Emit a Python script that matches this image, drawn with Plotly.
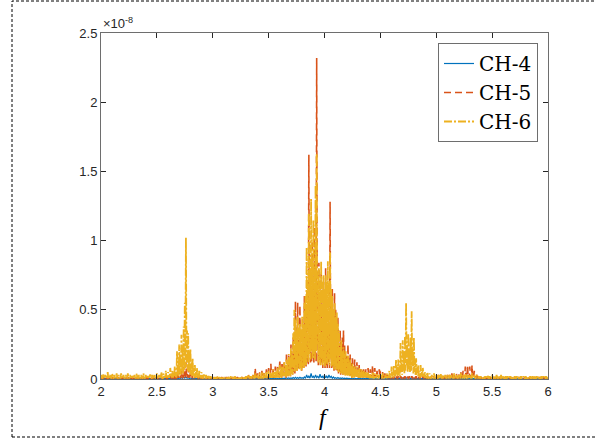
import numpy as np
import plotly.graph_objects as go

# ---------------- data (values in units of 1e-10) ----------------
# Spectra are sampled every 0.005 in f: "peak" samples at 2.00, 2.01, ...
# and "dip" samples at 2.005, 2.015, ... (one row = 0.1 in f).
F_START = 2.0
F_STEP = 0.005

ch6_peaks = [
    [3, 1, 4, 2, 3, 1, 5, 2, 3, 1],            # 2.0
    [4, 1, 3, 2, 4, 1, 3, 1, 4, 2],            # 2.1
    [3, 1, 3, 1, 4, 1, 3, 2, 3, 1],            # 2.2
    [3, 1, 4, 1, 3, 1, 3, 1, 4, 1],            # 2.3
    [3, 1, 3, 2, 4, 1, 3, 1, 3, 1],            # 2.4
    [4, 1, 3, 2, 5, 1, 4, 2, 6, 2],            # 2.5
    [5, 3, 8, 4, 6, 4, 9, 6, 20, 10],          # 2.6
    [25, 18, 32, 22, 38, 55, 102, 35, 33, 20], # 2.7
    [22, 12, 15, 8, 10, 5, 8, 4, 6, 3],        # 2.8
    [5, 1, 4, 1, 3, 1, 3, 1, 2, 1],            # 2.9
    [2, 0.5, 1.5, 0.5, 2, 0.5, 1.5, 0.5, 1, 0.5],   # 3.0
    [1.5, 0.5, 1, 0.5, 1.5, 0.5, 2, 0.5, 1.5, 0.5], # 3.1
    [2, 0.5, 1.5, 0.5, 1, 0.5, 1.5, 0.5, 2, 0.5],   # 3.2
    [2, 0.5, 3, 1, 2, 1, 3, 1, 4, 1],          # 3.3
    [3, 1, 4, 1, 5, 1, 4, 2, 5, 1],            # 3.4
    [6, 2, 5, 2, 7, 2, 6, 3, 8, 3],            # 3.5
    [10, 8, 9, 9, 12, 10, 14, 12, 18, 14],     # 3.6
    [22, 18, 33, 50, 43, 35, 45, 38, 40, 36],  # 3.7
    [45, 40, 55, 60, 95, 70, 120, 80, 130, 85],   # 3.8
    [115, 80, 140, 163, 75, 80, 70, 85, 70, 75],  # 3.9
    [65, 75, 70, 85, 70, 92, 65, 60, 50, 55],  # 4.0
    [45, 48, 40, 35, 25, 28, 20, 23, 18, 20],  # 4.1
    [15, 17, 12, 14, 9, 11, 8, 9, 7, 9],       # 4.2
    [6, 8, 5, 7, 5, 6, 4, 5, 4, 5],            # 4.3
    [2, 4, 2, 5, 1, 4, 2, 4, 1, 3],            # 4.4
    [3, 1, 4, 1, 3, 2, 4, 2, 6, 2],            # 4.5
    [9, 5, 10, 7, 14, 9, 14, 10, 26, 12],      # 4.6
    [28, 18, 31, 55, 25, 33, 22, 30, 49, 20],  # 4.7
    [30, 14, 15, 9, 10, 6, 10, 5, 8, 4],       # 4.8
    [5, 2, 5, 1, 4, 1, 3, 1, 4, 1],            # 4.9
    [3, 1, 3, 1, 4, 1, 3, 1, 3, 1],            # 5.0
    [3, 1, 3, 1, 3, 1, 4, 1, 3, 1],            # 5.1
    [3, 1, 4, 1, 3, 1, 4, 1, 3, 1],            # 5.2
    [3, 1, 4, 1, 3, 1, 3, 1, 2, 1],            # 5.3
    [2, 0.5, 2, 1, 2, 0.5, 3, 1, 2, 0.5],      # 5.4
    [3, 1, 2, 1, 3, 1, 2, 1, 3, 1],            # 5.5
    [2, 0.5, 2, 1, 2, 0.5, 2, 1, 2, 0.5],      # 5.6
    [2, 1, 2, 0.5, 2, 1, 2, 0.5, 2, 1],        # 5.7
    [2, 0.5, 2, 1, 2, 0.5, 2, 1, 2, 0.5],      # 5.8
    [2, 1, 2, 0.5, 2, 1, 2, 0.5, 2, 1],        # 5.9
    [2],                                       # 6.0
]

ch6_dips = [
    [1, 0.5, 1, 1, 0.5, 1, 0.5, 1, 1, 0.5],    # 2.0
    [1, 0.5, 1, 0.5, 1, 0.5, 1, 0.5, 1, 1],    # 2.1
    [1, 0.5, 1, 0.5, 1, 0.5, 1, 1, 1, 0.5],    # 2.2
    [1, 0.5, 1, 0.5, 1, 0.5, 1, 0.5, 1, 0.5],  # 2.3
    [1, 0.5, 1, 1, 1, 0.5, 1, 0.5, 1, 0.5],    # 2.4
    [1, 0.5, 1, 1, 1, 0.5, 1, 1, 2, 1],        # 2.5
    [1, 1, 2, 1, 1, 2, 2, 1, 3, 2],            # 2.6
    [4, 3, 5, 4, 6, 8, 10, 6, 5, 3],           # 2.7
    [3, 2, 2, 1, 1, 1, 1, 0.5, 1, 0.5],        # 2.8
    [1, 0.5, 1, 0.5, 0.5, 0.5, 0.5, 0.5, 0.5, 0.5],  # 2.9
    [0.3, 0.2, 0.3, 0.2, 0.3, 0.2, 0.3, 0.2, 0.3, 0.2],  # 3.0
    [0.3, 0.2, 0.3, 0.2, 0.3, 0.2, 0.3, 0.2, 0.3, 0.2],  # 3.1
    [0.3, 0.2, 0.3, 0.2, 0.3, 0.2, 0.3, 0.2, 0.3, 0.2],  # 3.2
    [0.5, 0.5, 1, 0.5, 0.5, 0.5, 1, 0.5, 1, 0.5],  # 3.3
    [1, 0.5, 1, 0.5, 1, 0.5, 1, 1, 1, 0.5],    # 3.4
    [1, 1, 1, 1, 2, 1, 1, 1, 2, 1],            # 3.5
    [2, 1, 2, 2, 2, 1, 3, 2, 3, 2],            # 3.6
    [4, 3, 6, 5, 8, 6, 9, 7, 8, 6],            # 3.7
    [9, 8, 10, 10, 15, 12, 18, 14, 20, 15],    # 3.8
    [18, 14, 20, 25, 12, 14, 10, 14, 10, 12],  # 3.9
    [9, 12, 10, 14, 10, 15, 9, 10, 7, 9],      # 4.0
    [6, 7, 5, 5, 4, 4, 3, 4, 2, 3],            # 4.1
    [2, 3, 2, 2, 1, 2, 1, 2, 1, 2],            # 4.2
    [1, 1, 1, 1, 1, 1, 1, 1, 1, 1],            # 4.3
    [0.5, 1, 0.5, 1, 0.5, 1, 0.5, 1, 0.5, 1],  # 4.4
    [1, 0.5, 1, 0.5, 1, 0.5, 1, 1, 1, 1],      # 4.5
    [2, 1, 2, 2, 3, 2, 3, 2, 5, 3],            # 4.6
    [6, 4, 6, 10, 5, 7, 5, 6, 9, 4],           # 4.7
    [5, 3, 3, 2, 2, 1, 2, 1, 2, 1],            # 4.8
    [1, 0.5, 1, 0.5, 1, 0.5, 1, 0.5, 1, 0.5],  # 4.9
    [1, 0.5, 1, 0.5, 1, 0.5, 1, 0.5, 1, 0.5],  # 5.0
    [1, 0.5, 1, 0.5, 1, 0.5, 1, 0.5, 1, 0.5],  # 5.1
    [1, 0.5, 1, 0.5, 1, 0.5, 1, 0.5, 1, 0.5],  # 5.2
    [1, 0.5, 1, 0.5, 1, 0.5, 1, 0.5, 1, 0.5],  # 5.3
    [0.5, 0.3, 0.5, 0.3, 0.5, 0.3, 0.5, 0.3, 0.5, 0.3],  # 5.4
    [0.5, 0.3, 0.5, 0.3, 0.5, 0.3, 0.5, 0.3, 0.5, 0.3],  # 5.5
    [0.5, 0.3, 0.5, 0.3, 0.5, 0.3, 0.5, 0.3, 0.5, 0.3],  # 5.6
    [0.5, 0.3, 0.5, 0.3, 0.5, 0.3, 0.5, 0.3, 0.5, 0.3],  # 5.7
    [0.5, 0.3, 0.5, 0.3, 0.5, 0.3, 0.5, 0.3, 0.5, 0.3],  # 5.8
    [0.5, 0.3, 0.5, 0.3, 0.5, 0.3, 0.5, 0.3, 0.5, 0.3],  # 5.9
]

ch5_peaks = [
    [1.5, 0.5, 1.5, 0.5, 1.5, 0.5, 1.5, 0.5, 1.5, 0.5],  # 2.0
    [1.5, 0.5, 1.5, 0.5, 1.5, 0.5, 1.5, 0.5, 1.5, 0.5],  # 2.1
    [1.5, 0.5, 1.5, 0.5, 1.5, 0.5, 1.5, 0.5, 1.5, 0.5],  # 2.2
    [1.5, 0.5, 1.5, 0.5, 1.5, 0.5, 1.5, 0.5, 1.5, 0.5],  # 2.3
    [1.5, 0.5, 1.5, 0.5, 1.5, 0.5, 1.5, 0.5, 1.5, 0.5],  # 2.4
    [1.5, 0.5, 1.5, 0.5, 1.5, 0.5, 1.5, 0.5, 1.5, 0.5],  # 2.5
    [2, 1, 2, 1, 3, 1, 3, 1, 5, 2],            # 2.6
    [6, 2, 7, 3, 9, 4, 12, 4, 8, 3],           # 2.7
    [5, 2, 4, 1, 3, 1, 2, 1, 2, 1],            # 2.8
    [1.5, 0.5, 1.5, 0.5, 1.5, 0.5, 1.5, 0.5, 1.5, 0.5],  # 2.9
    [1.5, 0.5, 1.5, 0.5, 1.5, 0.5, 1.5, 0.5, 1.5, 0.5],  # 3.0
    [1.5, 0.5, 1.5, 0.5, 1.5, 0.5, 1.5, 0.5, 1.5, 0.5],  # 3.1
    [1.5, 0.5, 1.5, 0.5, 1.5, 0.5, 1.5, 0.5, 1.5, 0.5],  # 3.2
    [2, 1, 3, 1, 2, 1, 3, 1, 8, 2],            # 3.3
    [4, 1, 5, 2, 6, 2, 5, 2, 7, 2],            # 3.4
    [8, 3, 11, 3, 7, 2, 9, 3, 10, 3],          # 3.5
    [14, 6, 12, 7, 13, 7, 19, 8, 17, 9],       # 3.6
    [25, 10, 30, 20, 56, 18, 55, 20, 53, 18],  # 3.7
    [30, 15, 60, 20, 50, 25, 162, 30, 45, 100],   # 3.8
    [45, 110, 50, 232, 35, 84, 30, 76, 30, 70],   # 3.9
    [30, 80, 30, 45, 30, 128, 30, 65, 25, 62], # 4.0
    [50, 30, 45, 25, 35, 20, 30, 35, 25, 15],  # 4.1
    [18, 25, 15, 18, 12, 15, 10, 14, 9, 12],   # 4.2
    [8, 10, 7, 8, 6, 8, 5, 7, 5, 8],           # 4.3
    [3, 7, 3, 10, 3, 8, 3, 6, 3, 7],           # 4.4
    [6, 2, 5, 2, 4, 1, 3, 1, 3, 1],            # 4.5
    [2, 1, 2, 1, 2, 1, 2, 1, 2, 1],            # 4.6
    [2, 1, 2, 1, 2, 1, 2, 1, 2, 1],            # 4.7
    [2, 1, 2, 1, 2, 1, 2, 1, 2, 1],            # 4.8
    [2, 1, 2, 1, 2, 1, 2, 1, 2, 1],            # 4.9
    [2, 1, 3, 1, 2, 1, 3, 1, 2, 1],            # 5.0
    [3, 1, 3, 1, 4, 1, 3, 1, 4, 1],            # 5.1
    [4, 1, 5, 2, 6, 2, 9, 3, 10, 3],           # 5.2
    [9, 3, 10, 2, 6, 2, 4, 1, 3, 1],           # 5.3
    [1.5, 0.5, 1.5, 0.5, 1.5, 0.5, 1.5, 0.5, 1.5, 0.5],  # 5.4
    [1.5, 0.5, 1.5, 0.5, 1.5, 0.5, 1.5, 0.5, 1.5, 0.5],  # 5.5
    [1.5, 0.5, 1.5, 0.5, 1.5, 0.5, 1.5, 0.5, 1.5, 0.5],  # 5.6
    [1.5, 0.5, 1.5, 0.5, 1.5, 0.5, 1.5, 0.5, 1.5, 0.5],  # 5.7
    [1.5, 0.5, 1.5, 0.5, 1.5, 0.5, 1.5, 0.5, 1.5, 0.5],  # 5.8
    [1.5, 0.5, 1.5, 0.5, 1.5, 0.5, 1.5, 0.5, 1.5, 0.5],  # 5.9
    [1],                                       # 6.0
]

ch5_dips = [
    [0.3, 0.2, 0.3, 0.2, 0.3, 0.2, 0.3, 0.2, 0.3, 0.2],  # 2.0
    [0.3, 0.2, 0.3, 0.2, 0.3, 0.2, 0.3, 0.2, 0.3, 0.2],  # 2.1
    [0.3, 0.2, 0.3, 0.2, 0.3, 0.2, 0.3, 0.2, 0.3, 0.2],  # 2.2
    [0.3, 0.2, 0.3, 0.2, 0.3, 0.2, 0.3, 0.2, 0.3, 0.2],  # 2.3
    [0.3, 0.2, 0.3, 0.2, 0.3, 0.2, 0.3, 0.2, 0.3, 0.2],  # 2.4
    [0.3, 0.2, 0.3, 0.2, 0.3, 0.2, 0.3, 0.2, 0.3, 0.2],  # 2.5
    [0.5, 0.3, 0.5, 0.3, 0.5, 0.3, 0.5, 0.3, 1, 0.5],    # 2.6
    [1, 0.5, 1, 0.5, 2, 1, 2, 1, 1, 0.5],      # 2.7
    [1, 0.5, 1, 0.5, 0.5, 0.3, 0.5, 0.3, 0.5, 0.3],      # 2.8
    [0.3, 0.2, 0.3, 0.2, 0.3, 0.2, 0.3, 0.2, 0.3, 0.2],  # 2.9
    [0.3, 0.2, 0.3, 0.2, 0.3, 0.2, 0.3, 0.2, 0.3, 0.2],  # 3.0
    [0.3, 0.2, 0.3, 0.2, 0.3, 0.2, 0.3, 0.2, 0.3, 0.2],  # 3.1
    [0.3, 0.2, 0.3, 0.2, 0.3, 0.2, 0.3, 0.2, 0.3, 0.2],  # 3.2
    [0.5, 0.3, 0.5, 0.3, 0.5, 0.3, 0.5, 0.3, 1, 0.5],    # 3.3
    [1, 0.5, 1, 0.5, 1, 0.5, 1, 0.5, 1, 0.5],  # 3.4
    [1, 1, 2, 1, 1, 1, 2, 1, 2, 1],            # 3.5
    [2, 1, 2, 2, 2, 1, 3, 2, 3, 2],            # 3.6
    [4, 3, 5, 4, 8, 6, 8, 6, 8, 6],            # 3.7
    [8, 7, 10, 9, 12, 10, 20, 12, 12, 15],     # 3.8
    [12, 15, 12, 25, 10, 14, 9, 12, 8, 12],    # 3.9
    [8, 10, 8, 12, 8, 15, 8, 9, 6, 8],         # 4.0
    [5, 6, 4, 5, 3, 5, 3, 5, 2, 3],            # 4.1
    [2, 3, 2, 2, 1, 2, 1, 2, 1, 2],            # 4.2
    [1, 1, 1, 1, 1, 1, 1, 1, 1, 1],            # 4.3
    [1, 1, 1, 1, 1, 1, 1, 1, 1, 1],            # 4.4
    [1, 0.5, 1, 0.5, 1, 0.5, 0.5, 0.3, 0.5, 0.3],        # 4.5
    [0.5, 0.3, 0.5, 0.3, 0.5, 0.3, 0.5, 0.3, 0.5, 0.3],  # 4.6
    [0.5, 0.3, 0.5, 0.3, 0.5, 0.3, 0.5, 0.3, 0.5, 0.3],  # 4.7
    [0.5, 0.3, 0.5, 0.3, 0.5, 0.3, 0.5, 0.3, 0.5, 0.3],  # 4.8
    [0.5, 0.3, 0.5, 0.3, 0.5, 0.3, 0.5, 0.3, 0.5, 0.3],  # 4.9
    [0.5, 0.3, 0.5, 0.3, 0.5, 0.3, 0.5, 0.3, 0.5, 0.3],  # 5.0
    [0.5, 0.3, 0.5, 0.3, 1, 0.5, 0.5, 0.3, 1, 0.5],      # 5.1
    [1, 0.5, 1, 0.5, 1, 1, 2, 1, 2, 1],        # 5.2
    [2, 1, 2, 1, 1, 0.5, 1, 0.5, 0.5, 0.3],    # 5.3
    [0.3, 0.2, 0.3, 0.2, 0.3, 0.2, 0.3, 0.2, 0.3, 0.2],  # 5.4
    [0.3, 0.2, 0.3, 0.2, 0.3, 0.2, 0.3, 0.2, 0.3, 0.2],  # 5.5
    [0.3, 0.2, 0.3, 0.2, 0.3, 0.2, 0.3, 0.2, 0.3, 0.2],  # 5.6
    [0.3, 0.2, 0.3, 0.2, 0.3, 0.2, 0.3, 0.2, 0.3, 0.2],  # 5.7
    [0.3, 0.2, 0.3, 0.2, 0.3, 0.2, 0.3, 0.2, 0.3, 0.2],  # 5.8
    [0.3, 0.2, 0.3, 0.2, 0.3, 0.2, 0.3, 0.2, 0.3, 0.2],  # 5.9
]

# CH-4 (blue), sampled every 0.01
ch4_rows = [
    [0.4, 0.2, 0.4, 0.2, 0.4, 0.2, 0.4, 0.2, 0.4, 0.2],  # 2.0
    [0.4, 0.2, 0.4, 0.2, 0.4, 0.2, 0.4, 0.2, 0.4, 0.2],  # 2.1
    [0.4, 0.2, 0.4, 0.2, 0.4, 0.2, 0.4, 0.2, 0.4, 0.2],  # 2.2
    [0.4, 0.2, 0.4, 0.2, 0.4, 0.2, 0.4, 0.2, 0.4, 0.2],  # 2.3
    [0.4, 0.2, 0.4, 0.2, 0.4, 0.2, 0.4, 0.2, 0.4, 0.2],  # 2.4
    [0.4, 0.2, 0.4, 0.2, 0.4, 0.2, 0.4, 0.2, 0.4, 0.2],  # 2.5
    [0.4, 0.2, 0.5, 0.2, 0.5, 0.2, 0.6, 0.3, 0.7, 0.3],  # 2.6
    [0.8, 0.4, 1, 0.5, 1.5, 0.6, 1.5, 0.6, 1, 0.4],      # 2.7
    [0.7, 0.3, 0.5, 0.2, 0.4, 0.2, 0.4, 0.2, 0.4, 0.2],  # 2.8
    [0.4, 0.2, 0.4, 0.2, 0.4, 0.2, 0.4, 0.2, 0.4, 0.2],  # 2.9
    [0.3, 0.1, 0.3, 0.1, 0.3, 0.1, 0.3, 0.1, 0.3, 0.1],  # 3.0
    [0.3, 0.1, 0.3, 0.1, 0.3, 0.1, 0.3, 0.1, 0.3, 0.1],  # 3.1
    [0.3, 0.1, 0.3, 0.1, 0.3, 0.1, 0.3, 0.1, 0.3, 0.1],  # 3.2
    [0.3, 0.1, 0.3, 0.1, 0.3, 0.1, 0.3, 0.1, 0.4, 0.2],  # 3.3
    [0.4, 0.2, 0.4, 0.2, 0.4, 0.2, 0.4, 0.2, 0.4, 0.2],  # 3.4
    [0.4, 0.2, 0.5, 0.2, 0.4, 0.2, 0.5, 0.2, 0.5, 0.2],  # 3.5
    [0.5, 0.2, 0.6, 0.3, 0.6, 0.3, 0.7, 0.3, 0.8, 0.3],  # 3.6
    [0.8, 0.3, 1, 0.4, 1.2, 0.4, 1, 0.4, 1.2, 0.5],      # 3.7
    [1, 0.4, 1.5, 0.5, 3, 0.8, 2, 0.6, 4, 1],            # 3.8
    [2, 0.6, 3, 1, 2, 0.5, 3.5, 1, 2, 0.6],              # 3.9
    [3, 0.8, 2, 0.6, 3, 1, 2, 0.5, 1.5, 0.5],            # 4.0
    [1, 0.4, 1, 0.4, 0.8, 0.3, 0.8, 0.3, 0.6, 0.3],      # 4.1
    [0.6, 0.3, 0.5, 0.2, 0.5, 0.2, 0.4, 0.2, 0.4, 0.2],  # 4.2
    [0.4, 0.2, 0.4, 0.2, 0.4, 0.2, 0.4, 0.2, 0.4, 0.2],  # 4.3
    [0.4, 0.2, 0.4, 0.2, 0.4, 0.2, 0.4, 0.2, 0.4, 0.2],  # 4.4
    [0.4, 0.2, 0.4, 0.2, 0.4, 0.2, 0.4, 0.2, 0.5, 0.2],  # 4.5
    [0.5, 0.2, 0.5, 0.2, 0.6, 0.3, 0.6, 0.3, 0.7, 0.3],  # 4.6
    [0.8, 0.3, 0.8, 0.4, 1, 0.4, 0.8, 0.3, 0.8, 0.3],    # 4.7
    [0.6, 0.3, 0.5, 0.2, 0.4, 0.2, 0.4, 0.2, 0.4, 0.2],  # 4.8
    [0.4, 0.2, 0.4, 0.2, 0.4, 0.2, 0.4, 0.2, 0.4, 0.2],  # 4.9
    [0.4, 0.2, 0.4, 0.2, 0.4, 0.2, 0.4, 0.2, 0.4, 0.2],  # 5.0
    [0.4, 0.2, 0.4, 0.2, 0.4, 0.2, 0.4, 0.2, 0.4, 0.2],  # 5.1
    [0.4, 0.2, 0.4, 0.2, 0.5, 0.2, 0.5, 0.2, 0.5, 0.2],  # 5.2
    [0.5, 0.2, 0.5, 0.2, 0.4, 0.2, 0.4, 0.2, 0.4, 0.2],  # 5.3
    [0.3, 0.1, 0.3, 0.1, 0.3, 0.1, 0.3, 0.1, 0.3, 0.1],  # 5.4
    [0.3, 0.1, 0.3, 0.1, 0.3, 0.1, 0.3, 0.1, 0.3, 0.1],  # 5.5
    [0.3, 0.1, 0.3, 0.1, 0.3, 0.1, 0.3, 0.1, 0.3, 0.1],  # 5.6
    [0.3, 0.1, 0.3, 0.1, 0.3, 0.1, 0.3, 0.1, 0.3, 0.1],  # 5.7
    [0.3, 0.1, 0.3, 0.1, 0.3, 0.1, 0.3, 0.1, 0.3, 0.1],  # 5.8
    [0.3, 0.1, 0.3, 0.1, 0.3, 0.1, 0.3, 0.1, 0.3, 0.1],  # 5.9
    [0.3],                                               # 6.0
]

series_names = ["CH-4", "CH-5", "CH-6"]
series_colors = ["#0072BD", "#D95319", "#EDB120"]
series_dash = ["solid", "7px,4px", "8px,2px,2px,2px"]
series_width = [1.2, 1.6, 1.8]

x_tick_vals = [2, 2.5, 3, 3.5, 4, 4.5, 5, 5.5, 6]
x_tick_text = ["2", "2.5", "3", "3.5", "4", "4.5", "5", "5.5", "6"]
y_tick_vals = [0, 0.5e-8, 1e-8, 1.5e-8, 2e-8, 2.5e-8]
y_tick_text = ["0", "0.5", "1", "1.5", "2", "2.5"]

UNIT = 1e-10


def flatten(rows):
    return [v for r in rows for v in r]


def interleave(peak_rows, dip_rows):
    p = flatten(peak_rows)
    d = flatten(dip_rows)
    assert len(p) == len(d) + 1, (len(p), len(d))
    out = []
    for i, v in enumerate(p):
        out.append(v)
        if i < len(d):
            out.append(d[i])
    return out


ch4_vals = flatten(ch4_rows)
ch5_vals = interleave(ch5_peaks, ch5_dips)
ch6_vals = interleave(ch6_peaks, ch6_dips)

f_fine = np.round(F_START + F_STEP * np.arange(len(ch6_vals)), 4)
f_coarse = np.round(F_START + 2 * F_STEP * np.arange(len(ch4_vals)), 4)
assert len(ch5_vals) == len(ch6_vals)

fig = go.Figure()
for name, xs, vals, col, dash, wd in zip(
        series_names, [f_coarse, f_fine, f_fine], [ch4_vals, ch5_vals, ch6_vals],
        series_colors, series_dash, series_width):
    fig.add_trace(go.Scatter(
        x=xs, y=np.array(vals) * UNIT, mode="lines", name=name,
        line=dict(color=col, width=wd, dash=dash, simplify=False),
    ))

W, H = 595, 439
L, R, T, B = 101, 548, 33, 379
pw, ph = R - L, B - T


def px2paper_x(px):
    return (px - L) / pw


def py2paper_y(py):
    return (B - py) / ph


axis_common = dict(
    showline=True, linecolor="#6e6e6e", linewidth=1, mirror="ticks",
    ticks="inside", ticklen=5, tickwidth=1, tickcolor="#262626",
    showgrid=False, zeroline=False,
    tickfont=dict(family="Liberation Sans, Arial, sans-serif", size=13, color="#262626"),
)

fig.update_layout(
    width=W, height=H,
    margin=dict(l=L, r=W - R, t=T, b=H - B),
    paper_bgcolor="white", plot_bgcolor="white",
    xaxis=dict(range=[2, 6], tickvals=x_tick_vals, ticktext=x_tick_text, **axis_common),
    yaxis=dict(range=[0, 2.5e-8], tickvals=y_tick_vals, ticktext=y_tick_text, **axis_common),
    showlegend=True,
    legend=dict(
        x=px2paper_x(538), xanchor="right", y=py2paper_y(43), yanchor="top",
        bgcolor="white", bordercolor="#6e6e6e", borderwidth=1,
        font=dict(family="DejaVu Serif, Liberation Serif, serif", size=20, color="black"),
        tracegroupgap=0,
    ),
    annotations=[
        dict(text="×10<sup>-8</sup>", xref="paper", yref="paper",
             x=0, y=1, xanchor="left", yanchor="bottom", showarrow=False,
             font=dict(family="Liberation Sans, Arial, sans-serif", size=13, color="#262626")),
        dict(text="<i>f</i>", xref="paper", yref="paper",
             x=px2paper_x(324), y=py2paper_y(417), xanchor="center", yanchor="middle",
             showarrow=False,
             font=dict(family="Liberation Serif, Times New Roman, serif", size=24, color="black")),
    ],
    shapes=[
        dict(type="rect", xref="paper", yref="paper",
             x0=px2paper_x(12), x1=px2paper_x(605), y0=py2paper_y(437), y1=py2paper_y(1),
             line=dict(color="black", width=1, dash="3px,2px"), fillcolor="rgba(0,0,0,0)",
             layer="below"),
    ],
)

fig.write_html("out.html", config={"displayModeBar": False},
               post_script="document.body.style.margin='0';")
